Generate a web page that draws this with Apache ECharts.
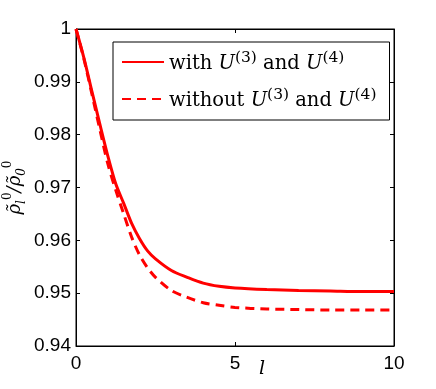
<!DOCTYPE html>
<html>
<head>
<meta charset="utf-8">
<script src="https://cdn.jsdelivr.net/npm/echarts@6/dist/echarts.min.js"></script>
<style>
html, body { margin: 0; padding: 0; background: #fff; }
#chart { width: 436px; height: 389px; }
</style>
</head>
<body>
<div id="chart"></div>
<script>
// l values and the two curves
var lValues = [0, 0.25, 0.5, 0.75, 1, 1.25, 1.5, 1.75, 2, 2.25, 2.5, 3, 3.5, 4, 4.5, 5, 6, 7, 8, 9, 10];
var withU = [1.0000, 0.9945, 0.9882, 0.9820, 0.9760, 0.9707, 0.9670, 0.9632, 0.9603, 0.9580, 0.9565,
	0.9543, 0.9530, 0.9519, 0.9513, 0.9510, 0.9507, 0.9505, 0.9504, 0.9503, 0.9503];
var withoutU = [1.0000, 0.9943, 0.9877, 0.9810, 0.9745, 0.9695, 0.9650, 0.9606, 0.9572, 0.9548, 0.9530,
	0.9505, 0.9492, 0.9482, 0.9477, 0.9473, 0.9470, 0.9469, 0.9468, 0.9468, 0.9468];
var seriesNames = ['with', 'without'];

function pairs(ys) {
	var out = [];
	for (var i = 0; i < lValues.length; i++) {
		out.push([lValues[i], ys[i]]);
	}
	return out;
}

var myChart = echarts.init(document.getElementById('chart'));

var tickFont = { color: '#000', fontFamily: 'Liberation Sans', fontSize: 19 };
var mathRich = {
	n: { fontFamily: 'DejaVu Serif', fontSize: 19.5, lineHeight: 24, verticalAlign: 'bottom', color: '#000' },
	i: { fontFamily: 'DejaVu Serif', fontStyle: 'italic', fontSize: 19.5, lineHeight: 24, verticalAlign: 'bottom', color: '#000' },
	sup: { fontFamily: 'DejaVu Serif', fontSize: 15.5, lineHeight: 14, verticalAlign: 'top', color: '#000' }
};

var option = {
	animation: false,
	grid: {
		left: 76,
		right: 42,
		top: 29,
		bottom: 43,
		containLabel: false,
		outerBoundsMode: 'none',
		show: true,
		borderColor: '#000',
		borderWidth: 1
	},
	legend: {
		orient: 'vertical',
		left: 113,
		top: 42,
		data: seriesNames,
		itemWidth: 42,
		itemHeight: 12,
		itemGap: 13,
		padding: [8, 13, 9, 8],
		borderColor: '#000',
		borderWidth: 1,
		backgroundColor: '#fff',
		itemStyle: { opacity: 0 },
		formatter: function (name) {
			if (name === 'with') {
				return '{n|with }{i|U}{sup|(3)}{n| and }{i|U}{sup|(4)}';
			}
			return '{n|without }{i|U}{sup|(3)}{n| and }{i|U}{sup|(4)}';
		},
		textStyle: { rich: mathRich }
	},
	xAxis: [{
		type: 'value',
		min: 0,
		max: 10,
		interval: 5,
		name: 'l',
		nameLocation: 'middle',
		nameGap: 14,
		nameMoveOverlap: false,
		nameTextStyle: {
			fontFamily: 'DejaVu Serif',
			fontStyle: 'italic',
			fontSize: 19,
			color: '#000',
			padding: [0, 0, 0, 54]
		},
		axisLine: { show: true, onZero: false, lineStyle: { color: '#000', width: 1 } },
		axisTick: { show: true, inside: true, length: 4, lineStyle: { color: '#000' } },
		axisLabel: Object.assign({ margin: 8 }, tickFont),
		splitLine: { show: false }
	}, {
		type: 'value',
		position: 'top',
		min: 0,
		max: 10,
		interval: 5,
		axisLine: { show: true, onZero: false, lineStyle: { color: '#000', width: 1 } },
		axisTick: { show: true, inside: true, length: 4, lineStyle: { color: '#000' } },
		axisLabel: { show: false },
		splitLine: { show: false }
	}],
	yAxis: [{
		type: 'value',
		min: 0.94,
		max: 1,
		interval: 0.01,
		name: '{r|ρ̃}{sub|l}{sup|0}{n|/}{r|ρ̃}{sub|0}{sup|0}',
		nameLocation: 'middle',
		nameGap: 48,
		nameMoveOverlap: false,
		nameTextStyle: {
			rich: {
				r: { fontFamily: 'DejaVu Serif', fontStyle: 'italic', fontSize: 18, lineHeight: 26, verticalAlign: 'middle', color: '#000' },
				n: { fontFamily: 'DejaVu Serif', fontStyle: 'italic', fontSize: 18, lineHeight: 26, verticalAlign: 'middle', color: '#000' },
				sub: { fontFamily: 'DejaVu Serif', fontStyle: 'italic', fontSize: 12, lineHeight: 12, verticalAlign: 'bottom', color: '#000' },
				sup: { fontFamily: 'DejaVu Serif', fontSize: 12, lineHeight: 12, verticalAlign: 'top', color: '#000' }
			}
		},
		axisLine: { show: true, onZero: false, lineStyle: { color: '#000', width: 1 } },
		axisTick: { show: true, inside: true, length: 4, lineStyle: { color: '#000' } },
		axisLabel: Object.assign({
			margin: 5,
			formatter: function (v) { return String(+v.toFixed(2)); }
		}, tickFont),
		splitLine: { show: false }
	}, {
		type: 'value',
		position: 'right',
		min: 0.94,
		max: 1,
		interval: 0.01,
		axisLine: { show: true, onZero: false, lineStyle: { color: '#000', width: 1 } },
		axisTick: { show: true, inside: true, length: 4, lineStyle: { color: '#000' } },
		axisLabel: { show: false },
		splitLine: { show: false }
	}],
	series: [{
		name: 'with',
		type: 'line',
		xAxisIndex: 0,
		yAxisIndex: 0,
		data: pairs(withU),
		smooth: 0.3,
		showSymbol: false,
		symbol: 'none',
		lineStyle: { color: '#ff0000', width: 3 },
		itemStyle: { color: '#ff0000' }
	}, {
		name: 'without',
		type: 'line',
		xAxisIndex: 0,
		yAxisIndex: 0,
		data: pairs(withoutU),
		smooth: 0.3,
		showSymbol: false,
		symbol: 'none',
		lineStyle: { color: '#ff0000', width: 3, type: [9, 6] },
		itemStyle: { color: '#ff0000' }
	}]
};

myChart.setOption(option);
</script>
</body>
</html>
